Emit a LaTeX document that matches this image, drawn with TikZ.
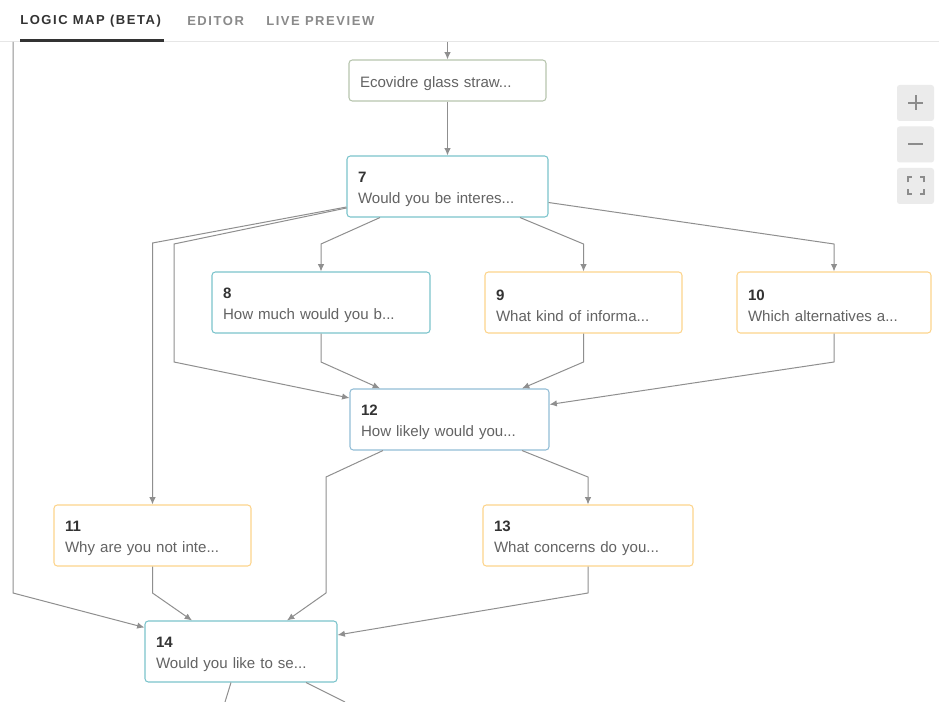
\documentclass[tikz,border=0pt]{standalone}
\usepackage{fontspec}
\setmainfont{Liberation Sans}
\newfontfamily\tabfont[LetterSpace=12]{Liberation Sans}
\usepackage{tikz}
\usetikzlibrary{calc,arrows.meta}
\definecolor{bg}{HTML}{FFFFFF}
\definecolor{ink}{HTML}{333333}
\definecolor{body}{HTML}{636363}
\definecolor{muted}{HTML}{8A8A8A}
\definecolor{rule}{HTML}{E6E6E6}
\definecolor{wire}{HTML}{8F8F8F}
\definecolor{teal}{HTML}{7CC4CC}
\definecolor{sky}{HTML}{92BDD6}
\definecolor{amber}{HTML}{FDD48C}
\definecolor{sage}{HTML}{B7C5AE}
\definecolor{btn}{HTML}{EBEBEB}
\definecolor{btnink}{HTML}{8C8C8C}
\newcommand{\qtext}[2]{\rule{0pt}{12.5pt}{\bfseries\color{ink}#1}\\#2}
\tikzset{
  qbox/.style={draw=#1, fill=bg, rounded corners=2.5pt, line width=0.8pt,
    align=left, inner xsep=8.25pt, inner ysep=0pt, minimum height=45.75pt,
    text=body, font=\fontsize{11.3}{15.75}\selectfont},
  conn/.style={draw=wire, line width=0.75pt, line join=round,
    -{Latex[length=5.5pt,width=4.8pt]}},
  wire/.style={draw=wire, line width=0.75pt},
  tab/.style={anchor=west, inner sep=0pt, text=muted,
    font=\tabfont\bfseries\fontsize{9.75}{10}\selectfont},
  tabon/.style={tab, text=ink},
  zbtn/.style={fill=btn, rounded corners=2pt, minimum width=27.75pt,
    minimum height=27pt, inner sep=0pt},
  zicon/.style={draw=btnink, line width=1.5pt}
}
\begin{document}
\begin{tikzpicture}[x=0.75pt,y=-0.75pt]
  \useasboundingbox (0,0) rectangle (939,702);
  \fill[bg] (0,0) rectangle (939,702);

  % header tabs
  \draw[rule, line width=0.75pt] (0,42) -- (939,42);
  \node[tabon] (tlogic) at (20,21.5) {LOGIC MAP (BETA)};
  \node[tab] (tedit) at (187,21.5) {EDITOR};
  \node[tab] (tlive) at (266,21.5) {LIVE PREVIEW};
  \draw[ink, line width=2.25pt] (20,40.5) -- (164,40.5);

  % zoom buttons
  \node[zbtn] (zin) at (915.5,103) {};
  \node[zbtn] (zout) at (915.5,144.5) {};
  \node[zbtn] (zfit) at (915.5,186) {};
  \draw[zicon] ($(zin)+(-7.5,0)$) -- ($(zin)+(7.5,0)$);
  \draw[zicon] ($(zin)+(0,-7.5)$) -- ($(zin)+(0,7.5)$);
  \draw[zicon] ($(zout)+(-7.5,0)$) -- ($(zout)+(7.5,0)$);
  \foreach \sx/\sy in {1/1,1/-1,-1/1,-1/-1}
    \draw[zicon] ($(zfit)+(\sx*8,\sy*3.5)$) -- ($(zfit)+(\sx*8,\sy*8.5)$)
      -- ($(zfit)+(\sx*4,\sy*8.5)$);

  % lanes between rows
  \coordinate (lane1) at (0,244);
  \coordinate (lane2) at (0,362);
  \coordinate (lane3) at (0,477);
  \coordinate (lane4) at (0,593);
  \coordinate (topin) at (447.5,42);
  \coordinate (leftin) at (13,42);
  \coordinate (bypass) at (174,244);
  \coordinate (drop) at (326,477);
  \coordinate (out1) at (225,702);
  \coordinate (out2) at (345,702);

  % question boxes
  \node[qbox=sage, minimum height=30.75pt, text width=131.25pt] (eco) at (447.5,80.5) {\rule{0pt}{12.5pt}Ecovidre glass straw...};
  \node[qbox=teal, text width=134.25pt] (q7) at (447.5,186.5) {\qtext{7}{Would you be interes...}};
  \node[qbox=teal, text width=147pt] (q8) at (321,302.5) {\qtext{8}{How much would you b...}};
  \node[qbox=amber, text width=131.25pt] (q9) at (583.5,302.5) {\qtext{9}{What kind of informa...}};
  \node[qbox=amber, text width=129pt] (q10) at (834,302.5) {\qtext{10}{Which alternatives a...}};
  \node[qbox=sky, text width=132.75pt] (q12) at (449.5,419.5) {\qtext{12}{How likely would you...}};
  \node[qbox=amber, text width=131.25pt] (q11) at (152.5,535.5) {\qtext{11}{Why are you not inte...}};
  \node[qbox=amber, text width=141pt] (q13) at (588,535.5) {\qtext{13}{What concerns do you...}};
  \node[qbox=teal, text width=127.5pt] (q14) at (241,651.5) {\qtext{14}{Would you like to se...}};

  % connectors
  \draw[conn] (topin) -- (eco.north);
  \draw[conn] (eco.south) -- (q7.north);
  \draw[conn] ($(q7.south)+(-67.5,0)$) -- (q8.north |- lane1) -- (q8.north);
  \draw[conn] ($(q7.south)+(72.5,0)$) -- (q9.north |- lane1) -- (q9.north);
  \draw[conn] ($(q7.east)+(0,16)$) -- (q10.north |- lane1) -- (q10.north);
  \draw[conn] ($(q7.west)+(0,20.5)$) -- ($(q11.north |- lane1)+(0,-1)$) -- (q11.north);
  \draw[conn] ($(q7.west)+(0,21.5)$) -- (bypass) -- (bypass |- lane2) -- ($(q12.west)+(0,-21.5)$);
  \draw[conn] (q8.south) -- (q8.south |- lane2) -- ($(q12.north)+(-69.5,0)$);
  \draw[conn] (q9.south) -- (q9.south |- lane2) -- ($(q12.north)+(72.5,0)$);
  \draw[conn] (q10.south) -- (q10.south |- lane2) -- ($(q12.east)+(0,-15)$);
  \draw[conn] ($(q12.south)+(-66.5,0)$) -- (drop) -- (drop |- lane4) -- ($(q14.north)+(46,0)$);
  \draw[conn] ($(q12.south)+(72.5,0)$) -- (q13.north |- lane3) -- (q13.north);
  \draw[conn] (q11.south) -- (q11.south |- lane4) -- ($(q14.north)+(-49,0)$);
  \draw[conn] (q13.south) -- (q13.south |- lane4) -- ($(q14.east)+(0,-16.5)$);
  \draw[conn] (leftin) -- (leftin |- lane4) -- ($(q14.west)+(0,-24)$);
  \draw[wire] ($(q14.south)+(-10,0)$) -- (out1);
  \draw[wire] ($(q14.south)+(65,0)$) -- (out2);
\end{tikzpicture}
\end{document}
